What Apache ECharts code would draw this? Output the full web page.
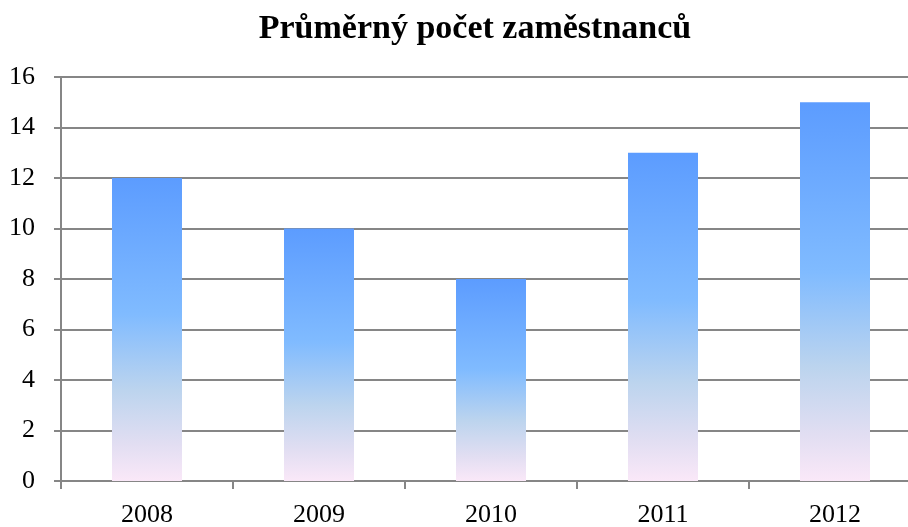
<!DOCTYPE html>
<html>
<head>
<meta charset="utf-8">
<script src="https://cdn.jsdelivr.net/npm/echarts@6/dist/echarts.min.js"></script>
<style>
  html, body { margin: 0; padding: 0; background: #fff; }
  #chart { width: 908px; height: 527px; }
</style>
</head>
<body>
<div id="chart"></div>
<script>
// roky
const years = ['2008', '2009', '2010', '2011', '2012']
// průměrný počet zaměstnanců
const employees = [12, 10, 8, 13, 15]
const yTicks = { min: 0, max: 16, interval: 2 }

const chart = echarts.init(document.getElementById('chart'))

const barGradient = new echarts.graphic.LinearGradient(0, 0, 0, 1, [
  { offset: 0, color: '#5c9cff' },
  { offset: 0.45, color: '#80bbff' },
  { offset: 0.7, color: '#bcd4ee' },
  { offset: 0.88, color: '#e2def2' },
  { offset: 1, color: '#fae8f8' }
])

const axisColor = '#868686'
const font = '"Liberation Serif", "DejaVu Serif", serif'

chart.setOption({
  animation: false,
  backgroundColor: '#fff',
  title: {
    text: 'Průměrný počet zaměstnanců',
    left: 470,
    top: 7,
    textAlign: 'center',
    textStyle: { fontFamily: font, fontWeight: 'bold', fontSize: 34, color: '#000' }
  },
  // graf je vpravo oříznutý, proto je plocha širší než okno
  grid: { left: 61, width: 860, top: 77, bottom: 46, outerBoundsMode: 'none' },
  xAxis: {
    type: 'category',
    data: years,
    axisLine: { lineStyle: { color: axisColor, width: 2 } },
    axisTick: { show: true, length: 8, lineStyle: { color: axisColor, width: 2 } },
    axisLabel: { color: '#000', fontFamily: font, fontSize: 26, margin: 21 }
  },
  yAxis: {
    type: 'value',
    min: yTicks.min,
    max: yTicks.max,
    interval: yTicks.interval,
    axisLine: { show: true, lineStyle: { color: axisColor, width: 2 } },
    axisTick: { show: true, length: 7, lineStyle: { color: axisColor, width: 2 } },
    splitLine: { lineStyle: { color: axisColor, width: 2 } },
    axisLabel: { color: '#000', fontFamily: font, fontSize: 26, margin: 26 }
  },
  series: [{
    type: 'bar',
    data: employees,
    barWidth: 70,
    itemStyle: { color: barGradient }
  }]
})
</script>
</body>
</html>
